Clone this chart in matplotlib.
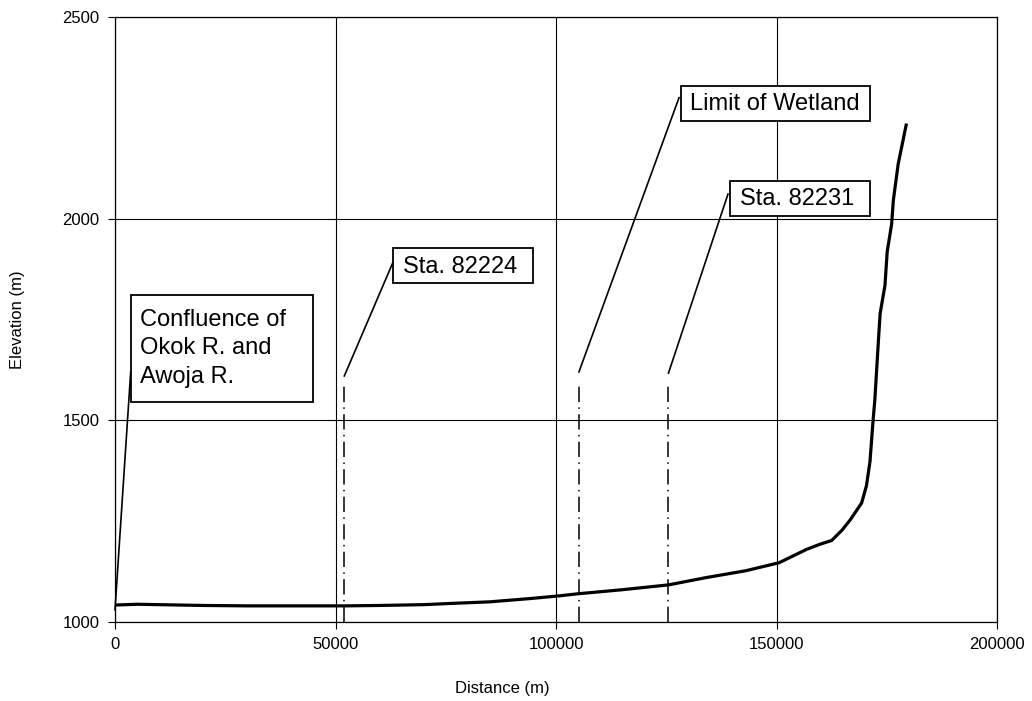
import matplotlib
matplotlib.use("Agg")
import matplotlib.pyplot as plt
from matplotlib.patches import Rectangle

# Longitudinal river-bed profile
distance_m = [0, 5000, 10000, 20000, 30000, 40000, 52000, 60000, 70000, 76000,
              85000, 94000, 100000, 105000, 115000, 125500, 134000, 143000,
              150600, 156800, 159900, 162500, 164800, 166700, 169300, 170400,
              171200, 171900, 172300, 173100, 173500, 174600, 175100, 176100,
              176500, 177600, 179400]
elevation_m = [1042, 1044, 1043, 1041, 1040, 1040, 1040, 1041, 1043, 1046,
               1050, 1058, 1064, 1070, 1080, 1092, 1110, 1127,
               1147, 1180, 1193, 1202, 1227, 1253, 1295, 1338,
               1398, 1500, 1551, 1696, 1765, 1835, 1918, 1986,
               2046, 2136, 2232]

# Station markers (dash-dot verticals)
marker_x = [52000, 105200, 125500]
marker_top = 1595

x_ticks = [0, 50000, 100000, 150000, 200000]
y_ticks = [1000, 1500, 2000, 2500]

# Callout labels: text, leader start (x, y), leader end (x, y), box (x0, x1, y0, y1), text anchor (x, y)
labels = ["Confluence of\nOkok R. and\nAwoja R.", "Sta. 82224", "Limit of Wetland", "Sta. 82231"]
leader_start = [(0, 1030), (52000, 1610), (105200, 1620), (125500, 1617)]
leader_end = [(3560, 1620), (63000, 1891), (127900, 2300), (139000, 2061)]
boxes = [(3628, 44898, 1545, 1810), (63040, 94790, 1840, 1927),
         (128300, 171200, 2243, 2330), (139400, 171200, 2007, 2094)]
text_pos = [(5670, 1679), (65400, 1880), (130400, 2285), (141700, 2048)]

fig = plt.figure(figsize=(10.32, 7.01), dpi=100)
ax = fig.add_axes([115 / 1032, 1 - 622 / 701, 882 / 1032, 605 / 701])

ax.set_xlim(0, 200000)
ax.set_ylim(1000, 2500)
ax.set_xticks(x_ticks)
ax.set_yticks(y_ticks)
ax.set_xticklabels([str(v) for v in x_ticks])
ax.set_yticklabels([str(v) for v in y_ticks])
ax.grid(True, color="black", linewidth=0.8)
ax.set_axisbelow(True)
for s in ax.spines.values():
    s.set_linewidth(0.9)
ax.tick_params(direction="out", length=5, width=0.8, labelsize=12, pad=6)
for lab in ax.get_xticklabels() + ax.get_yticklabels():
    lab.set_family("Liberation Sans")

ax.plot(distance_m, elevation_m, color="black", linewidth=2.3, solid_joinstyle="round")

for xm in marker_x:
    ax.plot([xm, xm], [1000, marker_top], color="black", linewidth=1.1,
            dashes=(10, 3.5, 1, 3.5))

for txt, (sx, sy), (ex, ey), (bx0, bx1, by0, by1), (tx, ty) in zip(
        labels, leader_start, leader_end, boxes, text_pos):
    ax.plot([sx, ex], [sy, ey], color="black", linewidth=1.2, clip_on=False)
    ax.add_patch(Rectangle((bx0, by0), bx1 - bx0, by1 - by0, facecolor="white",
                           edgecolor="black", linewidth=1.3, zorder=3))
    ax.text(tx, ty, txt, ha="left", va="center", fontsize=17,
            family="Liberation Sans", linespacing=1.38, zorder=4)

fig.text(502 / 1032, 1 - 688 / 701, "Distance (m)", ha="center", va="center",
         fontsize=12, family="Liberation Sans")
fig.text(18 / 1032, 1 - 320 / 701, "Elevation (m)", ha="center", va="center",
         rotation=90, fontsize=12, family="Liberation Sans")

fig.savefig("out.png", dpi=100)
